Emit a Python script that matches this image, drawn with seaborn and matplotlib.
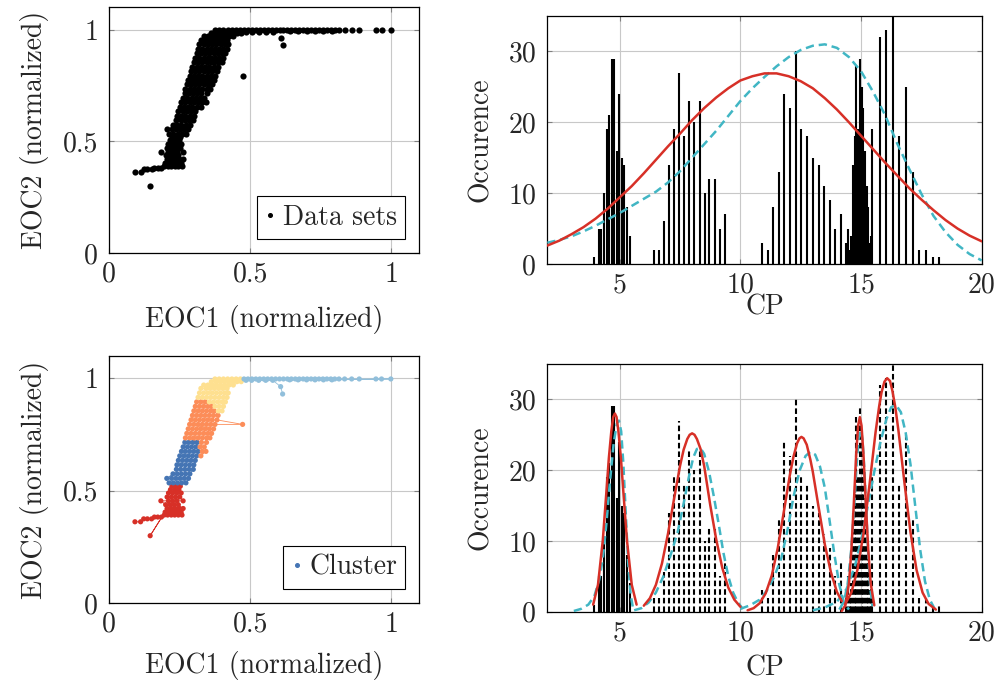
import numpy as np
import pandas as pd
import matplotlib
matplotlib.use("Agg")
import matplotlib.pyplot as plt
from matplotlib.lines import Line2D
import seaborn as sns

# ---------------- data ----------------
# scatter points, grouped by cluster as rows: (EOC2, [EOC1 values])
red_rows = [
    (0.520, [0.252, 0.237, 0.222]),
    (0.505, [0.217, 0.232, 0.247]),
    (0.490, [0.255, 0.240, 0.225, 0.210]),
    (0.472, [0.205, 0.220, 0.235, 0.250]),
    (0.455, [0.262, 0.240, 0.225, 0.210, 0.183]),
    (0.438, [0.200, 0.215, 0.230, 0.245]),
    (0.421, [0.262, 0.248, 0.234, 0.220, 0.205]),
    (0.300, [0.145]),
    (0.405, [0.198, 0.212, 0.226, 0.240, 0.255]),
    (0.392, [0.258, 0.245, 0.232, 0.220, 0.207, 0.195]),
    (0.383, [0.185, 0.172, 0.160]),
    (0.375, [0.150, 0.135, 0.122]),
    (0.362, [0.111, 0.091]),
]
blue_rows = [
    (0.535, [0.212, 0.227, 0.242, 0.257, 0.272]),
    (0.555, [0.281, 0.266, 0.251, 0.236, 0.221, 0.204]),
    (0.575, [0.226, 0.241, 0.256, 0.271, 0.286]),
    (0.595, [0.298, 0.283, 0.268, 0.253, 0.238]),
    (0.615, [0.240, 0.255, 0.270, 0.285, 0.300]),
    (0.635, [0.305, 0.290, 0.275, 0.260, 0.245]),
    (0.655, [0.250, 0.265, 0.280, 0.295, 0.310]),
    (0.675, [0.315, 0.300, 0.285, 0.270, 0.256]),
    (0.695, [0.262, 0.277, 0.292, 0.307]),
    (0.715, [0.312, 0.297, 0.282, 0.268]),
]
orange_rows = [
    (0.655, [0.325]),
    (0.675, [0.343, 0.330]),
    (0.695, [0.322, 0.337]),
    (0.715, [0.345, 0.327]),
    (0.735, [0.270, 0.285, 0.300, 0.315, 0.330, 0.345, 0.357]),
    (0.755, [0.363, 0.350, 0.335, 0.320, 0.305, 0.290, 0.275]),
    (0.775, [0.280, 0.295, 0.310, 0.325, 0.340, 0.355, 0.370]),
    (0.795, [0.285, 0.300, 0.315, 0.330, 0.345, 0.360, 0.375, 0.473]),
    (0.815, [0.382, 0.365, 0.350, 0.335, 0.320, 0.305, 0.290]),
    (0.835, [0.295, 0.310, 0.325, 0.340, 0.355, 0.370, 0.386]),
    (0.855, [0.372, 0.360, 0.345, 0.330, 0.315, 0.300]),
    (0.875, [0.305, 0.320, 0.335, 0.350, 0.362]),
    (0.895, [0.340, 0.325, 0.310]),
]
yellow_rows = [
    (0.855, [0.387, 0.400]),
    (0.875, [0.405, 0.390, 0.375]),
    (0.895, [0.355, 0.370, 0.385, 0.400, 0.412]),
    (0.915, [0.418, 0.405, 0.390, 0.375, 0.360, 0.345, 0.330, 0.315]),
    (0.935, [0.320, 0.335, 0.350, 0.365, 0.380, 0.395, 0.410, 0.422]),
    (0.955, [0.418, 0.403, 0.388, 0.373, 0.358, 0.343, 0.325]),
    (0.970, [0.335, 0.350, 0.365, 0.380, 0.395, 0.410, 0.425, 0.440]),
    (0.985, [0.468, 0.453, 0.438, 0.423, 0.408, 0.393, 0.378, 0.362]),
    (0.997, [0.375, 0.390, 0.405, 0.420, 0.435, 0.450, 0.465]),
]
lightblue_rows = [
    (0.930, [0.615]),
    (0.963, [0.608]),
    (0.991, [0.580, 0.555, 0.530, 0.505, 0.485]),
    (0.997, [0.478, 0.492, 0.506, 0.520, 0.534, 0.548, 0.562, 0.576, 0.590,
             0.604, 0.618, 0.632, 0.646, 0.660, 0.674, 0.688, 0.702, 0.716,
             0.730, 0.744, 0.758, 0.772, 0.786, 0.800, 0.815, 0.835, 0.860,
             0.887, 0.946, 0.966, 0.999]),
    (0.993, [0.790, 0.760, 0.730, 0.700, 0.670, 0.640]),
]
cluster_names = ["red", "blue", "orange", "yellow", "lightblue"]
cluster_colors = ["#d73027", "#4575b4", "#fc8d59", "#fee090", "#91bfdb"]

# histogram of CP values (bin position, count, cluster)
cp_x = [3.93, 4.14, 4.24, 4.35, 4.46, 4.55, 4.67, 4.76, 4.87, 4.98, 5.08, 5.19, 5.30, 5.41,
        6.42, 6.63, 6.83, 7.04, 7.25, 7.45, 7.67, 7.88, 8.09, 8.31, 8.52, 8.72, 8.93, 9.14, 9.35,
        10.89, 11.13, 11.35, 11.59, 11.82, 12.05, 12.30, 12.53, 12.77, 12.99, 13.25, 13.47, 13.71,
        13.94, 14.16, 14.37,
        14.46, 14.53, 14.60, 14.67, 14.74, 14.81, 14.88, 14.95, 15.02, 15.09, 15.16, 15.23, 15.29,
        15.36, 15.42,
        15.47, 15.78, 16.05, 16.31, 16.59, 16.87, 17.15, 17.42, 17.70, 17.97, 18.25]
cp_n = [1, 5, 5, 10, 19, 21, 29, 29, 16, 24, 15, 14, 8, 4,
        2, 2, 6, 14, 19, 27, 18, 23, 20, 23, 10, 12, 12, 5, 7,
        3, 2, 8, 13, 24, 22, 30, 19, 18, 15, 14, 11, 9, 5, 7, 3,
        5, 2, 4, 14, 18, 28, 19, 29, 25, 22, 16, 11, 8, 3, 4,
        19, 32, 33, 36, 18, 25, 13, 2, 2, 1, 1]
cp_group = [1] * 14 + [2] * 15 + [3] * 16 + [4] * 15 + [5] * 11

# single-distribution fits (top right)
fit_x = [2.0, 2.5, 3.0, 3.5, 4.0, 4.5, 5.0, 5.5, 6.0, 6.5, 7.0, 7.5, 8.0, 8.5, 9.0, 9.5, 10.0,
         10.5, 11.0, 11.5, 12.0, 12.5, 13.0, 13.5, 14.0, 14.5, 15.0, 15.5, 16.0, 16.5, 17.0,
         17.5, 18.0, 18.5, 19.0, 19.5, 20.0]
fit_red = [2.6, 3.3, 4.2, 5.2, 6.4, 7.8, 9.4, 11.0, 12.8, 14.7, 16.6, 18.4, 20.3, 22.0, 23.5,
           24.8, 25.9, 26.5, 26.9, 26.9, 26.5, 25.8, 24.8, 23.4, 21.8, 20.0, 18.1, 16.2, 14.3,
           12.5, 10.7, 9.1, 7.6, 6.2, 5.0, 4.0, 3.2]
fit_cyan = [3.0, 3.4, 3.9, 4.6, 5.4, 6.3, 7.2, 8.2, 9.2, 10.2, 11.5, 13.1, 15.0, 16.9, 18.8,
            20.9, 23.0, 24.8, 26.4, 27.9, 29.2, 30.2, 30.8, 31.0, 30.5, 29.2, 27.2, 24.3, 21.0,
            17.0, 13.4, 9.9, 6.8, 4.5, 2.7, 1.4, 0.5]

# per-cluster fits (bottom right)
red_fits = [
    ([3.9, 4.1, 4.3, 4.45, 4.55, 4.65, 4.73, 4.8, 4.87, 4.95, 5.05, 5.15, 5.3, 5.5, 5.7],
     [1.0, 3.8, 10.1, 17.0, 21.7, 25.4, 27.5, 28.0, 27.5, 25.4, 21.7, 17.0, 10.1, 3.8, 1.0]),
    ([6.0, 6.25, 6.5, 6.75, 7.0, 7.25, 7.5, 7.65, 7.8, 7.9, 8.0, 8.1, 8.2, 8.35, 8.5, 8.75, 9.0,
      9.25, 9.5, 9.75, 10.0],
     [0.85, 1.9, 3.8, 6.8, 11.0, 15.9, 20.6, 22.9, 24.4, 25.0, 25.2, 25.0, 24.4, 23.0, 20.6, 15.1,
      10.2, 6.2, 3.4, 1.7, 0.7]),
    ([10.3, 10.55, 10.8, 11.05, 11.3, 11.55, 11.8, 12.05, 12.2, 12.35, 12.45, 12.53, 12.62, 12.75,
      12.9, 13.0, 13.25, 13.5, 13.75, 14.0, 14.2],
     [0.2, 0.5, 1.2, 2.6, 5.1, 9.0, 14.1, 19.3, 21.9, 23.8, 24.5, 24.7, 24.5, 23.6, 21.5, 19.8,
      14.6, 9.5, 5.6, 2.8, 1.5]),
    ([14.2, 14.35, 14.5, 14.6, 14.7, 14.8, 14.88, 14.95, 15.02, 15.1, 15.2, 15.3, 15.4, 15.55],
     [0.1, 0.9, 4.0, 8.7, 15.2, 22.3, 26.3, 27.5, 26.3, 22.3, 15.2, 8.7, 4.0, 0.9]),
    ([14.33, 14.6, 14.85, 15.1, 15.35, 15.6, 15.75, 15.85, 15.97, 16.08, 16.2, 16.3, 16.42, 16.55,
      16.8, 17.05, 17.3, 17.55, 17.8, 18.1],
     [1.0, 2.7, 5.9, 11.0, 17.9, 25.3, 29.0, 31.0, 32.5, 33.0, 32.6, 31.2, 28.9, 25.6, 18.2,
      11.2, 5.9, 2.7, 1.1, 0.3]),
]
cyan_fits = [
    ([3.1, 3.4, 3.7, 3.95, 4.15, 4.3, 4.45, 4.6, 4.75, 4.88, 4.97, 5.06, 5.15, 5.25, 5.35, 5.45, 5.55],
     [0.1, 0.4, 1.0, 2.2, 4.5, 7.5, 12.5, 18.5, 23.8, 26.6, 27.0, 25.5, 21.0, 14.0, 7.0, 2.5, 0.5]),
    ([5.6, 5.9, 6.2, 6.5, 6.8, 7.1, 7.4, 7.65, 7.9, 8.05, 8.2, 8.35, 8.5, 8.7, 8.9, 9.1, 9.3, 9.5,
      9.7, 9.9, 10.1],
     [0.2, 0.5, 1.3, 2.7, 4.9, 7.9, 11.2, 15.3, 19.6, 21.8, 23.0, 23.1, 22.3, 19.8, 16.3, 12.4,
      8.3, 5.0, 2.7, 1.3, 0.4]),
    ([10.0, 10.4, 10.8, 11.1, 11.4, 11.7, 11.95, 12.2, 12.45, 12.7, 12.9, 13.1, 13.3, 13.5, 13.7,
      13.9, 14.1, 14.3, 14.5],
     [0.4, 0.9, 1.7, 3.0, 4.9, 7.6, 11.5, 16.2, 19.9, 22.0, 22.6, 22.2, 20.5, 17.5, 12.8, 8.0,
      3.8, 1.2, 0.3]),
    ([14.1, 14.3, 14.45, 14.6, 14.72, 14.82, 14.9, 14.98, 15.06, 15.14, 15.22, 15.3, 15.38, 15.47],
     [0.3, 1.5, 4.0, 9.0, 15.0, 21.0, 24.5, 25.7, 24.3, 20.0, 14.0, 8.0, 3.5, 0.8]),
    ([13.0, 13.5, 14.0, 14.4, 14.75, 15.05, 15.3, 15.55, 15.8, 16.05, 16.25, 16.45, 16.65, 16.85,
      17.05, 17.25, 17.45, 17.65, 17.85, 18.05],
     [0.2, 0.6, 1.4, 3.2, 6.5, 10.8, 15.3, 19.8, 23.9, 27.2, 28.9, 29.2, 28.2, 25.3, 20.8, 14.8,
      8.8, 4.3, 1.7, 0.4]),
]

# ---------------- style ----------------
sns.set_theme(style="white")
plt.rcParams.update({
    "font.family": "cmr10",
    "mathtext.fontset": "cm",
    "axes.formatter.use_mathtext": True,
    "font.size": 20,
    "lines.scale_dashes": False,
    "axes.edgecolor": "black",
    "axes.linewidth": 0.9,
})

RED = "#d73027"
CYAN = "#41b6c4"
GRID = "#c8c8c8"

# build scatter DataFrame
recs = []
for cname, rows in zip(cluster_names, [red_rows, blue_rows, orange_rows, yellow_rows, lightblue_rows]):
    order = 0
    for yv, xs in rows:
        for xv in xs:
            recs.append({"EOC1": xv, "EOC2": yv, "cluster": cname, "order": order})
            order += 1
pts = pd.DataFrame(recs)

hist = pd.DataFrame({"CP": cp_x, "n": cp_n, "group": cp_group})

fig = plt.figure(figsize=(10, 6.86), dpi=100)
W, H = 1000, 686


def px_axes(l, t, r, b):
    return fig.add_axes([l / W, 1 - b / H, (r - l) / W, (b - t) / H])


ax_tl = px_axes(109.3, 7.3, 419.3, 253.3)
ax_bl = px_axes(109.3, 355.8, 419.3, 603.2)
ax_tr = px_axes(547.3, 16, 981.7, 264)
ax_br = px_axes(547.3, 364, 981.7, 611.7)


def style_axes(ax, xt, xtl, yt, ytl, xlim, ylim, xlabel, ylabel, xpad):
    ax.set_xlim(*xlim)
    ax.set_ylim(*ylim)
    ax.set_xticks(xt)
    ax.set_xticklabels(xtl)
    ax.set_yticks(yt)
    ax.set_yticklabels(ytl)
    ax.grid(True, color=GRID, lw=0.8, zorder=0)
    ax.set_axisbelow(True)
    ax.tick_params(direction="in", length=3.8, width=0.8, color="#808080",
                   top=True, right=True, bottom=True, left=True, labelsize=20)
    ax.tick_params(axis="x", pad=6)
    ax.tick_params(axis="y", pad=8)
    ax.set_xlabel(xlabel, fontsize=20, labelpad=xpad)
    ax.set_ylabel(ylabel, fontsize=20, labelpad=10)
    for s in ax.spines.values():
        s.set_color("black")
        s.set_linewidth(0.9)
        s.set_visible(True)
    ax.set_facecolor("white")


# --- top left: all data sets ---
sns.scatterplot(data=pts, x="EOC1", y="EOC2", color="black", s=20, linewidth=0,
                ax=ax_tl, legend=False, zorder=3)
style_axes(ax_tl, [0, 0.5, 1], ["0", "0.5", "1"], [0, 0.5, 1], ["0", "0.5", "1"],
           (0, 1.1), (0, 1.1), "EOC1 (normalized)", "EOC2 (normalized)", 12)
h1 = Line2D([], [], marker="o", color="black", ls="none", markersize=2.6)
ax_tl.legend([h1], ["Data sets"], loc="lower right", frameon=True, fancybox=False,
             edgecolor="black", framealpha=1, handlelength=0.4, handletextpad=0.25,
             borderpad=0.3, borderaxespad=0.5, fontsize=20).get_frame().set_linewidth(0.8)

# --- bottom left: clusters ---
pal = dict(zip(cluster_names, cluster_colors))
for cname in cluster_names:
    sub = pts[pts.cluster == cname]
    sns.lineplot(data=sub, x="EOC1", y="EOC2", sort=False, estimator=None,
                 color=pal[cname], lw=0.6, ax=ax_bl, zorder=2, legend=False)
sns.scatterplot(data=pts, x="EOC1", y="EOC2", hue="cluster", palette=pal, s=14,
                linewidth=0, ax=ax_bl, legend=False, zorder=3)
style_axes(ax_bl, [0, 0.5, 1], ["0", "0.5", "1"], [0, 0.5, 1], ["0", "0.5", "1"],
           (0, 1.1), (0, 1.1), "EOC1 (normalized)", "EOC2 (normalized)", 9.5)
h2 = Line2D([], [], marker="o", color="#4575b4", ls="none", markersize=2.6)
ax_bl.legend([h2], ["Cluster"], loc="lower right", frameon=True, fancybox=False,
             edgecolor="black", framealpha=1, handlelength=0.4, handletextpad=0.25,
             borderpad=0.3, borderaxespad=0.5, fontsize=20).get_frame().set_linewidth(0.8)

# --- top right: histogram + global fits ---
ax_tr.vlines(hist.CP, 0, hist.n, color="black", lw=1.5, zorder=2)
fit_df = pd.DataFrame({"CP": fit_x, "red": fit_red, "cyan": fit_cyan})
sns.lineplot(data=fit_df, x="CP", y="red", color=RED, lw=1.8, ax=ax_tr, zorder=4)
sns.lineplot(data=fit_df, x="CP", y="cyan", color=CYAN, lw=1.8, ax=ax_tr, zorder=3,
             dashes=False, linestyle=(0, (6, 3.5)))
style_axes(ax_tr, [5, 10, 15, 20], ["5", "10", "15", "20"], [0, 10, 20, 30],
           ["0", "10", "20", "30"], (2, 20), (0, 35), "CP", "Occurence", -3)

# --- bottom right: histogram + per-cluster fits ---
for g, sub in hist.groupby("group"):
    ls = "solid" if g == 1 else (0, (4.0, 2.2))
    ax_br.vlines(sub.CP, 0, sub.n, color="black", lw=1.5, linestyles=[ls], zorder=2)
rrec, crec = [], []
for i, (xs, ys) in enumerate(red_fits):
    rrec += [{"CP": a, "v": b, "k": i} for a, b in zip(xs, ys)]
for i, (xs, ys) in enumerate(cyan_fits):
    crec += [{"CP": a, "v": b, "k": i} for a, b in zip(xs, ys)]
rdf, cdf = pd.DataFrame(rrec), pd.DataFrame(crec)
sns.lineplot(data=cdf, x="CP", y="v", units="k", estimator=None, color=CYAN, lw=1.8,
             ax=ax_br, zorder=3, linestyle=(0, (6, 3.5)))
sns.lineplot(data=rdf, x="CP", y="v", units="k", estimator=None, color=RED, lw=1.8,
             ax=ax_br, zorder=4)
style_axes(ax_br, [5, 10, 15, 20], ["5", "10", "15", "20"], [0, 10, 20, 30],
           ["0", "10", "20", "30"], (2, 20), (0, 35), "CP", "Occurence", 6.5)

fig.savefig("out.png", dpi=100, facecolor="white")
